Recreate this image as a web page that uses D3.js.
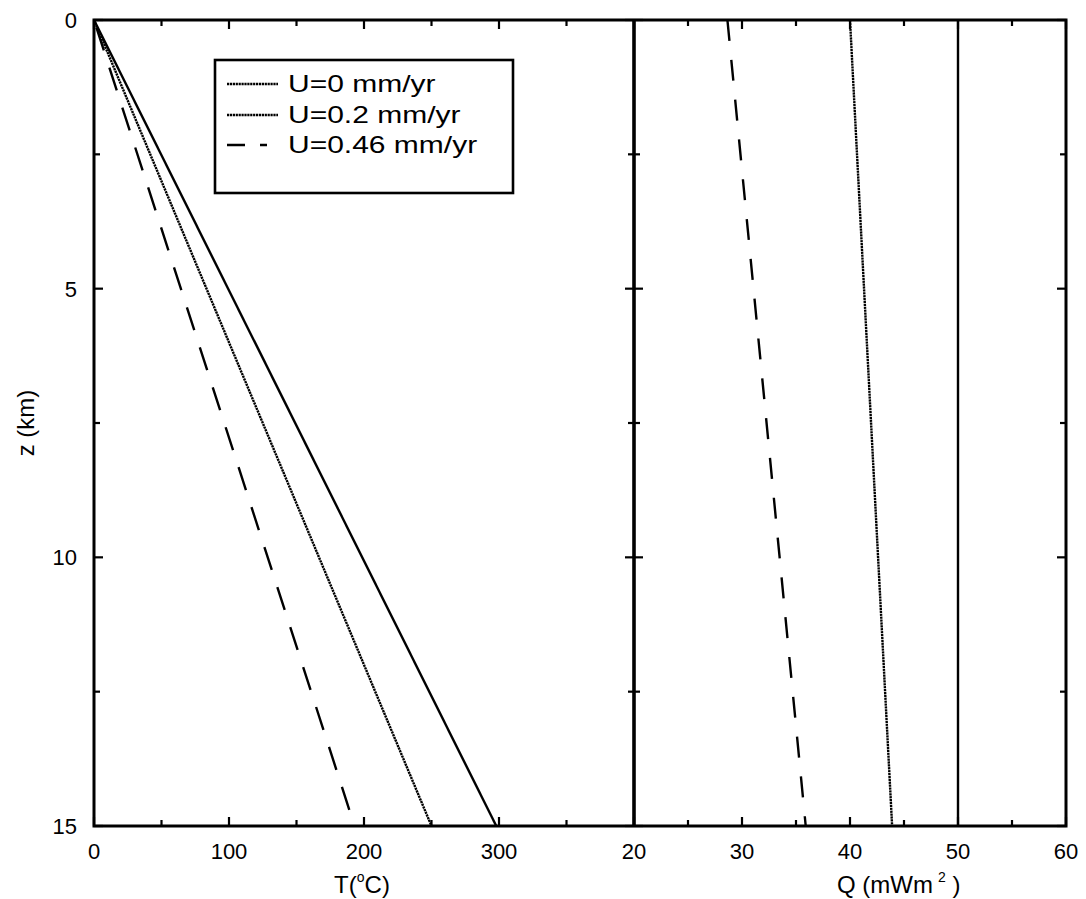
<!DOCTYPE html>
<html>
<head>
<meta charset="utf-8">
<script src="https://cdn.jsdelivr.net/npm/d3@7"></script>
<style>
  html, body { margin: 0; padding: 0; background: #fff; }
  svg { display: block; font-family: "Liberation Sans", Arial, Helvetica, sans-serif; }
</style>
</head>
<body>
<svg id="chart" width="1086" height="899"></svg>
<script>
// ---- data ----
const depth = [0, 15];                       // z (km)
const seriesNames = ["U=0 mm/yr", "U=0.2 mm/yr", "U=0.46 mm/yr"];
const tempU0   = [0, 298];                   // T (°C)
const tempU02  = [0, 250];
const tempU046 = [0, 193];
const flowU0   = [50, 50];                   // Q (mW m^-2)
const flowU02  = [40, 43.9];
const flowU046 = [28.65, 35.9];
const zTicksMajor = [0, 5, 10, 15];
const zTicksMinor = [2.5, 7.5, 12.5];
const tTicksMajor = [0, 100, 200, 300];
const tTicksMinor = [50, 150, 250, 350];
const qTicksMajor = [20, 30, 40, 50, 60];
const qTicksMinor = [25, 35, 45, 55];

// ---- layout ----
const svg = d3.select("#chart");
const yTop = 20, yBot = 826;
const xL0 = 94, xMid = 634, xR1 = 1066;

const y = d3.scaleLinear().domain([0, 15]).range([yTop, yBot]);
const xT = d3.scaleLinear().domain([0, 400]).range([xL0, xMid]);
const xQ = d3.scaleLinear().domain([20, 60]).range([xMid, xR1]);

const styles = [
  { dash: null, width: 2.4, offset: 0 },
  { dash: "2.2,0.7", width: 2.4, offset: 0 },
  { dash: "24,18", width: 2.4, offset: -8 }
];

const g = svg.append("g");

// ---- curves ----
const lineT = (vals) => d3.line().x((d, i) => xT(vals[i])).y((d) => y(d))(depth);
const lineQ = (vals) => d3.line().x((d, i) => xQ(vals[i])).y((d) => y(d))(depth);
[tempU0, tempU02, tempU046].forEach((vals, i) => {
  g.append("path").attr("d", lineT(vals)).attr("fill", "none")
    .attr("stroke", "#000").attr("stroke-width", styles[i].width)
    .attr("stroke-dasharray", styles[i].dash)
    .attr("stroke-dashoffset", styles[i].offset);
});
[flowU0, flowU02, flowU046].forEach((vals, i) => {
  g.append("path").attr("d", lineQ(vals)).attr("fill", "none")
    .attr("stroke", "#000").attr("stroke-width", styles[i].width)
    .attr("stroke-dasharray", i === 2 ? "21,19" : styles[i].dash);
});

// ---- ticks ----
function tickLine(x1, y1, x2, y2) {
  g.append("line").attr("x1", x1).attr("y1", y1).attr("x2", x2).attr("y2", y2)
    .attr("stroke", "#000").attr("stroke-width", 2.2);
}
const majL = 9, minL = 6;
tTicksMajor.concat(tTicksMinor).forEach(v => {
  const L = tTicksMajor.includes(v) ? majL : minL;
  tickLine(xT(v), yBot, xT(v), yBot - L);
  tickLine(xT(v), yTop, xT(v), yTop + L);
});
qTicksMajor.concat(qTicksMinor).forEach(v => {
  const L = qTicksMajor.includes(v) ? majL : minL;
  tickLine(xQ(v), yBot, xQ(v), yBot - L);
  tickLine(xQ(v), yTop, xQ(v), yTop + L);
});
zTicksMajor.concat(zTicksMinor).forEach(v => {
  const L = zTicksMajor.includes(v) ? majL : minL;
  tickLine(xL0, y(v), xL0 + L, y(v));
  tickLine(xMid - L, y(v), xMid + L, y(v));
  tickLine(xR1, y(v), xR1 - L, y(v));
});

// ---- frame ----
g.append("rect").attr("x", xL0).attr("y", yTop).attr("width", xR1 - xL0).attr("height", yBot - yTop)
  .attr("fill", "none").attr("stroke", "#000").attr("stroke-width", 3);
g.append("line").attr("x1", xMid).attr("x2", xMid).attr("y1", yTop).attr("y2", yBot)
  .attr("stroke", "#000").attr("stroke-width", 3.6);

// ---- tick labels ----
const fs = 22, fsTitle = 24;
zTicksMajor.forEach(v => {
  svg.append("text").attr("x", 77).attr("y", y(v)).attr("dy", "0.36em")
    .attr("text-anchor", "end").attr("font-size", fs).text(v);
});
tTicksMajor.forEach(v => {
  svg.append("text").attr("x", xT(v)).attr("y", 859)
    .attr("text-anchor", "middle").attr("font-size", fs).text(v);
});
qTicksMajor.forEach(v => {
  svg.append("text").attr("x", xQ(v)).attr("y", 859)
    .attr("text-anchor", "middle").attr("font-size", fs).text(v);
});

// ---- axis titles ----
const tLab = svg.append("text").attr("x", 362).attr("y", 893)
  .attr("text-anchor", "middle").attr("font-size", fsTitle);
tLab.append("tspan").text("T(");
tLab.append("tspan").attr("font-size", 14).attr("dy", -11).text("o");
tLab.append("tspan").attr("dy", 11).text("C)");

const qLab = svg.append("text").attr("x", 837).attr("y", 893)
  .attr("text-anchor", "start").attr("font-size", fsTitle);
qLab.append("tspan").text("Q (mWm");
qLab.append("tspan").attr("font-size", 14).attr("dy", -11).attr("dx", 5).text("2");
qLab.append("tspan").attr("dy", 11).text(" )");

svg.append("text").attr("transform", "translate(34,423) rotate(-90)")
  .attr("text-anchor", "middle").attr("font-size", fsTitle).text("z (km)");

// ---- legend ----
const leg = svg.append("g");
leg.append("rect").attr("x", 215).attr("y", 60).attr("width", 298).attr("height", 133)
  .attr("fill", "#fff").attr("stroke", "#000").attr("stroke-width", 2.6);
const legBase = [92, 123, 153];
const legDash = ["2.2,0.7", "2.2,0.7", "18,15,7,40"];
seriesNames.forEach((name, i) => {
  leg.append("line").attr("x1", 227).attr("x2", 278)
    .attr("y1", legBase[i] - 8).attr("y2", legBase[i] - 8)
    .attr("stroke", "#000").attr("stroke-width", 2.4)
    .attr("stroke-dasharray", legDash[i]);
  leg.append("text").attr("transform", `translate(288,${legBase[i]}) scale(1.25,1)`)
    .attr("font-size", 24).text(name);
});
</script>
</body>
</html>
